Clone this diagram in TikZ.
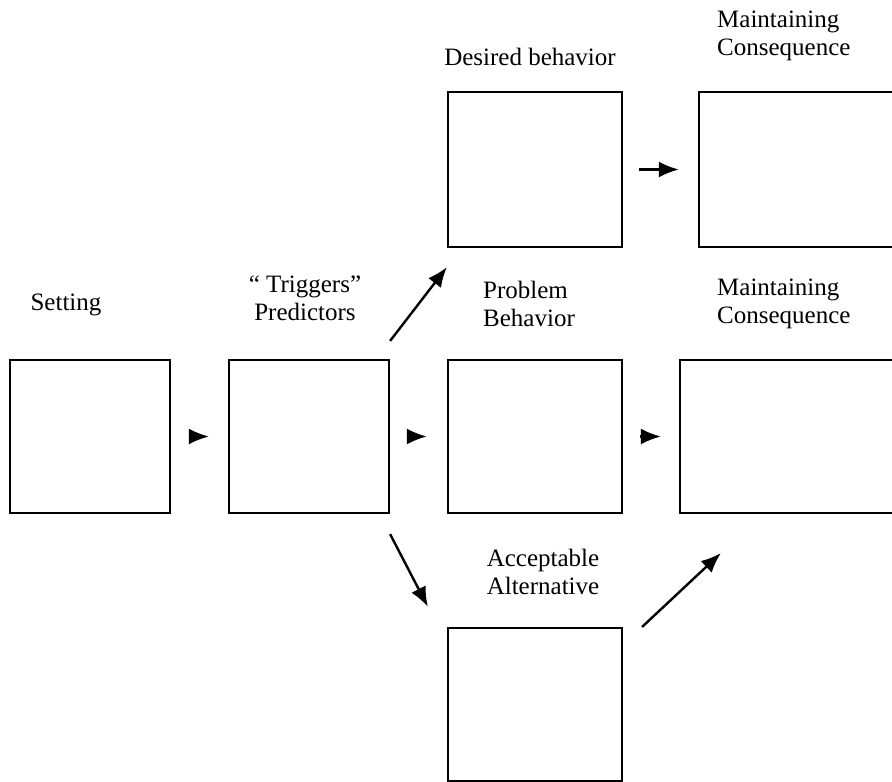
\documentclass[tikz,border=0pt]{standalone}
\usepackage{fontspec}
\setmainfont{Liberation Serif}
\usetikzlibrary{positioning,arrows.meta}

\begin{document}
\begin{tikzpicture}[x=1pt,y=-1pt,on grid,
   box/.style={draw,line width=2.2pt,minimum width=160pt,minimum height=153pt},
   lbl/.style={inner sep=0pt,font=\fontsize{25}{28}\selectfont},
   arr/.style={line width=2.4pt,-{Latex[length=20pt,width=16pt]}}]
   \useasboundingbox (0,0) rectangle (892,782);
   \clip (0,0) rectangle (892,782);
   \node[box] (setting) at (90,436.5) {};
   \node[box] (trig) [right=219pt of setting] {};
   \node[box,minimum width=174pt] (prob) [right=226pt of trig] {};
   \node[box,minimum width=260pt] (midcons) [right=275pt of prob] {};
   \node[box,minimum width=174pt,minimum height=155pt] (desired) [above=267pt of prob] {};
   \node[box,minimum width=260pt,minimum height=155pt] (topcons) [right=294pt of desired] {};
   \node[box,minimum width=174pt] (accept) [below=268pt of prob] {};
   \node[lbl] (settinglbl) at (66,305) {Setting};
   \node[lbl,align=center] (triglbl) at (305,298) {“ Triggers”\\Predictors};
   \node[lbl,align=left,anchor=west] (problbl) at (483,304) {Problem\\Behavior};
   \node[lbl,align=left,anchor=west] (midconslbl) at (717,304) {Maintaining\\Consequence};
   \node[lbl] (desiredlbl) at (530,57) {Desired behavior};
   \node[lbl,align=left,anchor=west] (topconslbl) at (717,36) {Maintaining\\Consequence};
   \node[lbl,align=center] (acceptlbl) at (543,572) {Acceptable\\Alternative};
   \draw[arr,shorten <=21pt,shorten >=19pt] (setting.east) -- (trig.west);
   \draw[arr,shorten <=17pt,shorten >=20pt] (trig.east) -- (prob.west);
   \draw[arr,shorten <=17pt,shorten >=18pt] (prob.east) -- (midcons.west);
   \draw[arr,shorten <=16pt,shorten >=19pt] (desired.east) -- (topcons.west);
   \draw[arr] ([yshift=18pt]trig.north east) -- ([yshift=-19pt]desired.south west);
   \draw[arr] ([yshift=-20pt]trig.south east) -- ([xshift=-19pt,yshift=20pt]accept.north west);
   \draw[arr] ([xshift=19pt]accept.north east) -- ([xshift=42pt,yshift=-39pt]midcons.south west);
\end{tikzpicture}
\end{document}
